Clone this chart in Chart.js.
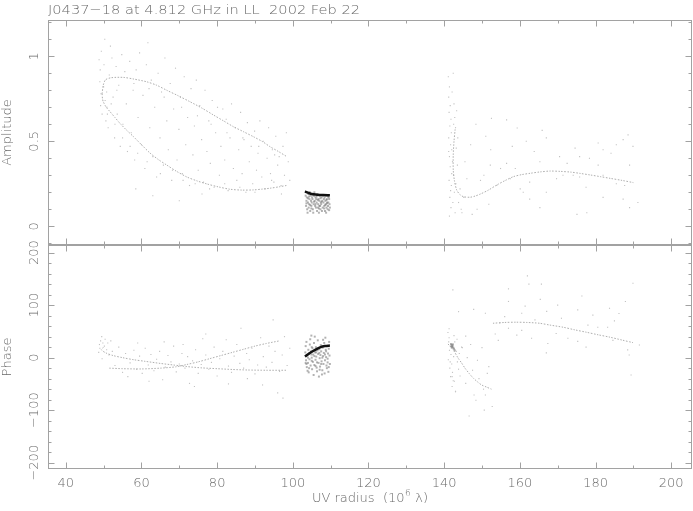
<!DOCTYPE html>
<html>
<head>
<meta charset="utf-8">
<script src="https://cdn.jsdelivr.net/npm/chart.js@4/dist/chart.umd.min.js"></script>
<style>
  body { margin: 0; background: #fff; }
  #wrap { position: relative; width: 693px; height: 511px; }
  #wrap canvas { position: absolute; left: 0; }
  #ampCanvas { top: 0; }
  #phaseCanvas { top: 240px; }
</style>
</head>
<body>
<div id="wrap">
  <canvas id="ampCanvas" width="693" height="250"></canvas>
  <canvas id="phaseCanvas" width="693" height="271"></canvas>
</div>
<script>
/* ============================================================
   DATA  (UV radius in 10^6 lambda, amplitude, phase in deg)
   ============================================================ */

const TITLE        = 'J0437\u221218 at 4.812 GHz in LL  2002 Feb 22';
const xTicks       = [40, 60, 80, 100, 120, 140, 160, 180, 200];
const ampTicks     = [0, 0.5, 1];
const ampLabels    = ['0', '0.5', '1'];
const phaseTicks   = [-200, -100, 0, 100, 200];
const phaseLabels  = ['\u2212200', '\u2212100', '0', '100', '200'];

// model curves, amplitude panel
const ampUpper = [[49.6,0.78],[49.9,0.83],[50.5,0.862],[52,0.874],[55.2,0.876],[58,0.866],[61.4,0.85],[64,0.83],[66.7,0.80],[69.7,0.768],[72.8,0.733],[76,0.695],[79,0.655],[81.7,0.62],[84.3,0.586],[87,0.556],[89.6,0.527],[92,0.498],[94,0.468],[96.2,0.44],[98.4,0.41]];
const ampLower = [[49.6,0.78],[49.7,0.75],[49.9,0.733],[50.7,0.70],[51.7,0.674],[53,0.64],[54.3,0.606],[56,0.567],[57.9,0.527],[60,0.48],[62.3,0.43],[64.5,0.392],[66.7,0.36],[69.3,0.323],[72,0.29],[74.7,0.267],[77.3,0.249],[80.3,0.232],[83.4,0.218],[86.5,0.213],[89.6,0.214],[92,0.219],[94,0.224],[96.6,0.233],[98.3,0.24]];
const ampRight = [[142.9,0.57],[142.6,0.50],[142.4,0.42],[142.4,0.331],[142.7,0.27],[143.3,0.214],[144.1,0.188],[145.1,0.174],[146.9,0.171],[148.2,0.178],[149.6,0.19],[151.7,0.213],[153.9,0.243],[156.1,0.269],[158.3,0.292],[160.5,0.304],[162.8,0.312],[165.4,0.32],[168,0.325],[170.7,0.323],[173.4,0.319],[176,0.311],[178.6,0.302],[181.3,0.292],[183.9,0.282],[187,0.27],[190,0.257]];
const ampMid   = [[103.2,0.205],[104,0.198],[105,0.19],[106.5,0.186],[108,0.184],[109.8,0.183]];

// model curves, phase panel
const phLeftA  = [[50.0,20],[49.4,15],[50.6,9],[52.5,4],[55,0],[58,-4],[61,-7],[65,-11],[68.5,-14],[72,-17],[76,-19.5],[80,-21],[84,-22.5],[88,-23.5],[93,-24],[98.4,-24]];
const phLeftB  = [[51.5,-20],[55,-21],[60,-21.5],[65,-20],[69,-17.5],[72,-13],[75,-8],[78,-2],[81,4],[84,10],[87,16],[90,22],[93,27],[96.5,32]];
const phRightA = [[141.0,26],[141.6,22],[142.4,15],[143.7,-1],[144.6,-10],[145.5,-20],[146.6,-30],[147.7,-39],[148.8,-46],[149.9,-52],[151.2,-56],[152.5,-60]];
const phRightB = [[152.9,65.5],[156,67],[159,67.5],[162,67],[165.2,65.5],[168,62],[171.4,58],[174.5,53],[177.6,48.4],[180.7,43.5],[183.8,39],[187,33.5],[189.9,28.6]];
const phMid    = [[103.2,2],[104.5,9],[105.9,15],[107.2,19.5],[108.5,22],[109.8,23]];

// visibilities, amplitude
const ampPtsLeft = [[48.8,0.98],[49.1,0.92],[49.0,0.85],[49.3,0.78],[49.2,0.71],[49.6,0.66],[49.4,1.03],[50.1,0.95],[50.3,1.10],[50.6,0.62],[50.9,0.70],[51.2,0.58],[51.5,0.89],[51.8,1.06],[52.2,0.99],[52.5,0.76],[52.9,0.52],[53.3,0.94],[53.6,0.66],[54.0,0.83],[54.4,0.47],[54.8,1.01],[55.1,0.60],[55.6,0.91],[56.0,0.72],[56.3,0.44],[56.9,0.97],[57.3,0.55],[57.8,0.80],[58.2,0.39],[58.6,0.92],[59.1,0.64],[59.5,1.02],[60.0,0.48],[60.4,0.77],[60.9,0.34],[61.3,0.95],[61.7,1.08],[62.2,0.58],[62.6,0.86],[63.0,0.41],[63.5,0.70],[64.0,0.29],[64.4,0.90],[64.9,0.52],[65.3,0.79],[65.8,0.36],[66.2,0.99],[66.7,0.62],[67.1,0.45],[67.6,0.84],[68.0,0.27],[68.5,0.69],[69.0,0.93],[69.4,0.39],[69.9,0.57],[70.3,0.76],[70.8,0.31],[71.3,0.88],[71.7,0.48],[72.2,0.64],[72.7,0.24],[73.1,0.81],[73.6,0.42],[74.0,0.59],[74.5,0.86],[75.0,0.33],[75.4,0.71],[75.9,0.51],[76.4,0.26],[76.8,0.80],[77.3,0.44],[77.8,0.62],[78.2,0.37],[78.7,0.74],[79.2,0.23],[79.6,0.55],[80.1,0.70],[80.6,0.30],[81.0,0.47],[81.5,0.69],[82.0,0.39],[82.4,0.63],[82.9,0.21],[83.4,0.52],[83.8,0.72],[84.3,0.34],[84.8,0.58],[85.2,0.27],[85.7,0.45],[86.2,0.67],[86.6,0.31],[87.1,0.51],[87.6,0.20],[88.0,0.61],[88.5,0.38],[89.0,0.47],[89.4,0.25],[89.9,0.56],[90.4,0.33],[90.8,0.43],[91.3,0.62],[91.8,0.29],[92.2,0.50],[92.7,0.22],[93.2,0.40],[93.6,0.58],[94.1,0.31],[94.6,0.45],[95.0,0.26],[95.5,0.53],[96.0,0.36],[96.4,0.41],[96.9,0.24],[97.4,0.47],[97.8,0.30],[98.3,0.55],[98.8,0.38],[99.2,0.27],[63.0,0.18],[70.0,0.15],[58.5,0.22],[76.0,0.19],
  [50.0,0.82],[50.4,0.74],[50.8,0.79],[51.0,0.66],[52.0,0.72],[53.0,0.60],[55.0,0.52],[57.0,0.47],[59.0,0.43],[61.5,0.38],[65.0,0.31],[68.2,0.33],[71.0,0.27],[74.2,0.25],[78.0,0.22],[82.0,0.25],[86.0,0.23],[90.0,0.20],[94.4,0.27],[97.0,0.19],[53.5,0.80],[58.0,0.84],[62.0,0.81],[66.0,0.76],[70.6,0.70],[74.8,0.65],[78.4,0.60],[82.6,0.55],[86.8,0.52],[91.0,0.47],[95.2,0.42]];
const ampPtsRight = [[141.1,0.88],[141.4,0.82],[141.2,0.76],[141.6,0.71],[141.3,0.67],[141.8,0.63],[141.5,0.59],[141.9,0.55],[141.2,0.52],[141.7,0.48],[142.0,0.45],[141.4,0.41],[142.2,0.38],[141.6,0.35],[142.5,0.30],[141.3,0.27],[141.9,0.24],[142.7,0.20],[141.5,0.17],[142.3,0.14],[141.8,0.11],[142.9,0.08],[141.4,0.06],[142.6,0.72],[142.8,0.64],[143.0,0.58],[142.4,0.90],[143.2,0.46],[143.5,0.36],[143.1,0.25],[143.8,0.14],[144.2,0.22],[144.5,0.10],[143.6,0.52],[142.1,0.79],[141.2,0.44],[142.0,0.31],[141.7,0.21],[143.3,0.68],[142.5,0.60],
  [152.5,0.635],[156.5,0.626],[159.3,0.578],[165.9,0.564],[188.6,0.538],[187.3,0.51],[189.9,0.47],[167,0.52],[161.7,0.5],[180.7,0.49],[174.6,0.46],[185.5,0.48],[182,0.45],[147,0.48],[151,0.53],[152.3,0.45],[148.4,0.6],[156.5,0.37],[165.3,0.38],[171.4,0.30],[175.8,0.29],[182,0.30],[189,0.36],[177.5,0.23],[182,0.17],[187.3,0.16],[189,0.11],[191.2,0.14],[175.1,0.07],[177.7,0.08],[165.3,0.11],[167,0.2],[162.6,0.16],[160.9,0.2],[153.9,0.24],[151.8,0.13],[147.4,0.07],[148.7,0.1],[144.7,0.08],[145.2,0.17],[149.6,0.27],[152.2,0.36],[157.5,0.28],[169.7,0.28],[174.1,0.3],[185.5,0.25],[187.7,0.24],[180.7,0.36],[175.8,0.41],[178.4,0.4],[184.1,0.43],[150.5,0.3],[154.9,0.34],[158.8,0.34],[162.6,0.26],[160.1,0.22],[146,0.28],[145.5,0.38],[170.5,0.41],[163.8,0.44],[158,0.47],[172.5,0.37]];
const ampPtsMid = [[103.4,0.18],[103.6,0.15],[103.5,0.12],[103.8,0.10],[103.7,0.17],[104.0,0.14],[104.1,0.19],[104.2,0.11],[104.4,0.16],[104.3,0.13],[104.6,0.09],[104.7,0.18],[104.8,0.15],[104.9,0.12],[105.1,0.17],[105.0,0.14],[105.3,0.10],[105.2,0.16],[105.5,0.13],[105.6,0.18],[105.4,0.08],[105.8,0.15],[105.9,0.12],[106.0,0.17],[106.1,0.11],[106.3,0.14],[106.2,0.16],[106.5,0.19],[106.4,0.09],[106.7,0.13],[106.8,0.16],[106.6,0.11],[107.0,0.15],[107.1,0.18],[107.2,0.12],[107.4,0.14],[107.3,0.10],[107.6,0.17],[107.5,0.13],[107.8,0.15],[107.9,0.11],[108.0,0.18],[108.1,0.14],[108.3,0.12],[108.2,0.16],[108.5,0.09],[108.4,0.17],[108.7,0.13],[108.6,0.15],[108.9,0.11],[108.8,0.18],[109.1,0.14],[109.0,0.16],[109.3,0.12],[109.2,0.10],[109.5,0.17],[109.4,0.14],[109.7,0.13],[109.6,0.16],[109.8,0.11],[103.9,0.08],[106.9,0.08],[105.7,0.20],[107.7,0.09],[104.5,0.20],[108.8,0.08],[106.0,0.13],[107.0,0.12],[104.0,0.165],[109.0,0.135],
  [103.6,0.135],[104.3,0.175],[104.9,0.105],[105.6,0.145],[106.3,0.175],[106.9,0.105],[107.6,0.145],[108.3,0.105],[108.9,0.155],[109.6,0.095],[104.6,0.125],[105.3,0.185],[106.6,0.155],[107.3,0.165],[108.6,0.125],[109.3,0.175]];

// visibilities, phase
const phPtsLeft = [[48.9,25],[49.2,32],[49.0,18],[49.5,40],[49.8,28],[50.2,22],[50.4,35],[50.8,15],[51.1,28],[51.4,5],[51.9,32],[52.3,12],[48.7,10],[49.6,-2],[53,-15],[54,20],[55,-28],[55.8,8],[56.4,-36],[57,-10],[58,14],[58.7,-22],[59.5,3],[60.2,-30],[61,18],[61.8,-14],[62.5,6],[63.3,-25],[64,-3],[64.8,12],[65.6,-42],[66.3,-18],[67,4],[67.8,-8],[68.5,22],[69.2,-27],[70,-12],[70.7,8],[71.5,-20],[72.2,2],[72.7,-49],[73.5,-6],[74.3,15],[75,-30],[75.8,-13],[76.2,36],[77,5],[77.8,-22],[78.5,-9],[79.2,20],[80,-35],[80.7,-2],[81.5,12],[82.4,34],[83,-16],[83.8,-28],[84.5,3],[85.2,25],[86,-11],[86.3,56],[87,-20],[87.8,8],[88.5,-4],[89.2,18],[90,-31],[90.7,-14],[91.5,38],[92.2,2],[93,-18],[93.7,22],[94.5,-9],[94.8,72],[95.3,12],[96,-67],[96.5,-26],[97.2,5],[97.8,40],[98.5,-15],[99.2,18],[88,-40],[74,-55],[62,-45],[92,-52],[97.4,-77],[83,-50],[59,28],[66,30],[71,25],[77,45]];
const phPtsRight = [[141.0,48],[141.3,38],[141.2,30],[141.6,22],[141.4,14],[141.8,6],[141.1,-4],[142.0,-12],[141.5,-20],[142.2,-28],[141.7,-36],[142.4,-44],[142.1,-55],[143.0,-64],[141.3,55],[142.6,42],[142.8,30],[143.2,12],[143.5,-8],[142.5,2],[143.8,-22],[144.2,-35],[143.4,35],[141.9,18],[142.3,26],[141.6,-8],[144.0,8],[144.6,20],[142.7,-45],
  [162,155.6],[162.4,140],[165.7,140],[157,131],[189.9,141.6],[142.3,129],[157,107],[165.4,111],[176.4,117.5],[187.9,107],[161.4,98],[150.9,84.5],[143.8,87.6],[147.8,92],[183.7,94],[175.3,91],[179.3,81],[186.2,84],[167.1,88],[160.5,84.5],[157,56],[160.5,52],[163.1,37],[159.2,43],[167.4,27],[169.6,46],[172.7,37],[175.3,31],[177.5,20],[180.6,58],[183.2,58],[184.6,33],[188.5,14.7],[188.9,5],[189.4,-33],[191.6,24],[154.3,33],[154.7,66],[167,9],[151.8,-17],[151.4,-30],[150.9,-71],[152.7,-93],[150.6,-100],[146.6,-111],[148.4,-81],[147.9,-71],[145.7,-49],[147.5,-24],[143,-65],[142.1,-36],[146.1,0],[144.8,19],[147,25],[145.7,41],[150,19],[149.2,-40],[150.4,-60],[148.8,-5],[153.5,45],[171,75],[185,70],[178,62],[164,72],[156,78],[170,100]];
const phPtsMid = [[103.3,10],[103.5,-5],[103.4,22],[103.7,-18],[103.8,4],[103.6,30],[104.0,-10],[104.1,15],[104.2,-28],[104.3,8],[104.5,25],[104.4,-3],[104.7,-15],[104.8,12],[104.6,35],[105.0,0],[105.1,-22],[105.2,18],[105.4,6],[105.3,-8],[105.6,28],[105.7,-14],[105.5,-33],[105.9,10],[106.0,-4],[106.1,20],[106.3,-19],[106.2,2],[106.5,14],[106.4,-26],[106.7,7],[106.8,-10],[106.6,33],[107.0,16],[107.1,-1],[107.2,-17],[107.4,24],[107.3,5],[107.6,-7],[107.5,12],[107.8,-24],[107.9,19],[108.0,3],[108.1,-12],[108.3,28],[108.2,9],[108.5,-5],[108.4,-30],[108.7,15],[108.6,38],[108.9,-15],[108.8,1],[109.1,22],[109.0,-20],[109.3,8],[109.2,-9],[109.5,17],[109.4,-27],[109.7,4],[109.6,30],[109.8,-12],[104.9,42],[106.9,-36],[105.8,40],[107.7,-32],[103.9,-25],[108.0,34],[106.0,-16],[107.0,9],[105.0,20],
  [103.6,-12],[104.3,-20],[105.0,-6],[105.7,3],[106.4,-9],[107.1,-23],[107.8,0],[108.5,6],[109.2,-2],[104.0,0],[104.9,6],[106.2,10],[107.5,-12],[108.8,12],[109.5,-18],[103.4,-10],
  [141.8,26],[142.0,24],[142.2,22],[142.4,19],[142.6,17],[142.1,20],[142.8,14],[142.3,25],[141.9,21]];

/* ============================================================
   PGPLOT-STYLE FRAME, TICKS AND LABELS
   ============================================================ */

const FONT  = '"DejaVu Sans", sans-serif';
const INK   = '#6a6a6a';
const FRAME = '#a2a2a2';

function drawTicks(ctx, a, scale, horizontal, step, majors) {
  const lo = Math.ceil(scale.min / step - 1e-6), hi = Math.floor(scale.max / step + 1e-6);
  for (let i = lo; i <= hi; i++) {
    const v   = +(i * step).toFixed(6);
    const len = majors.some(m => Math.abs(m - v) < 1e-6) ? 6.5 : 3.5;
    const p   = Math.round(scale.getPixelForValue(v)) + 0.5;
    ctx.beginPath();
    if (horizontal) {
      ctx.moveTo(p, a.top);    ctx.lineTo(p, a.top + len);
      ctx.moveTo(p, a.bottom); ctx.lineTo(p, a.bottom - len);
    } else {
      ctx.moveTo(a.left, p);  ctx.lineTo(a.left + len, p);
      ctx.moveTo(a.right, p); ctx.lineTo(a.right - len, p);
    }
    ctx.stroke();
  }
}

function fitText(ctx, s, x, y, width) {
  const w = ctx.measureText(s).width;
  ctx.save(); ctx.translate(x, y); ctx.scale(width / w, 1); ctx.fillText(s, 0, 0); ctx.restore();
}

const pgFrame = {
  id: 'pgframe',
  afterDraw(chart, args, o) {
    const { ctx, chartArea: a, scales: { x, y } } = chart;
    ctx.save();
    ctx.strokeStyle = FRAME;
    ctx.lineWidth = 1;
    ctx.strokeRect(a.left + 0.5, a.top + 0.5, a.right - a.left - 1, a.bottom - a.top - 1);
    drawTicks(ctx, a, x, true, 10, xTicks);
    drawTicks(ctx, a, y, false, o.yStep, o.yTicks);

    ctx.fillStyle = INK;
    ctx.font = '200 13px ' + FONT;
    // rotated y tick labels and axis title
    o.yTicks.forEach((v, i) => {
      ctx.save();
      ctx.translate(38, y.getPixelForValue(v));
      ctx.rotate(-Math.PI / 2);
      ctx.textAlign = 'center';
      ctx.fillText(o.yLabels[i], 0, 0);
      ctx.restore();
    });
    ctx.save();
    ctx.translate(11, (a.top + a.bottom) / 2);
    ctx.rotate(-Math.PI / 2);
    ctx.textAlign = 'center';
    ctx.fillText(o.yTitle, 0, 0);
    ctx.restore();

    if (o.title) fitText(ctx, o.title, a.left, 13.5, 312);

    if (o.xAxis) {
      ctx.textAlign = 'center';
      xTicks.forEach(v => ctx.fillText(String(v), x.getPixelForValue(v), a.bottom + 18));
      const p1 = 'UV radius  (10', p2 = '6', p3 = ' \u03bb)';
      const w1 = ctx.measureText(p1).width, w3 = ctx.measureText(p3).width;
      ctx.font = '200 9px ' + FONT;
      const w2 = ctx.measureText(p2).width + 1;
      const x0 = (a.left + a.right) / 2 - (w1 + w2 + w3) / 2, yb = a.bottom + 33;
      ctx.textAlign = 'left';
      ctx.fillText(p2, x0 + w1 + 0.5, yb - 6);
      ctx.font = '200 13px ' + FONT;
      ctx.fillText(p1, x0, yb);
      ctx.fillText(p3, x0 + w1 + w2, yb);
    }
    ctx.restore();
  },
};

/* ============================================================
   DATASET HELPERS
   ============================================================ */

const toXY = arr => arr.map(([x, y]) => ({ x, y }));

const dots = (arr, color, r, order) => ({
  data: toXY(arr), showLine: false, pointStyle: 'rect',
  pointRadius: r, pointBorderWidth: 0, pointBackgroundColor: color, order,
});

const curve = (arr, color, w, order, dash) => ({
  data: toXY(arr), showLine: true, fill: false, tension: 0.25,
  borderColor: color, borderWidth: w, borderDash: dash || [], pointRadius: 0, order,
});

function panel(id, datasets, yMin, yMax, pad, frame) {
  return new Chart(document.getElementById(id), {
    type: 'scatter',
    data: { datasets },
    options: {
      responsive: false, animation: false, devicePixelRatio: 1, events: [],
      layout: { autoPadding: false, padding: pad },
      plugins: { legend: { display: false }, tooltip: { enabled: false }, pgframe: frame },
      scales: {
        x: { type: 'linear', min: 35.3, max: 205.5, display: false },
        y: { type: 'linear', min: yMin, max: yMax, display: false },
      },
    },
    plugins: [pgFrame],
  });
}

/* ============================================================
   RENDER
   ============================================================ */

const LIGHT = '#c2c2c2';
const MODEL = 'rgba(160,160,160,0.85)';
const DOTS  = [1.5, 1.5];
const DENSE = 'rgba(115,115,115,0.55)';

panel('ampCanvas', [
  curve(ampMid, '#111', 2.5, 0),
  curve(ampUpper, MODEL, 1, 1, DOTS),
  curve(ampLower, MODEL, 1, 1, DOTS),
  curve(ampRight, MODEL, 1, 1, DOTS),
  dots(ampPtsMid, DENSE, 1.4, 2),
  dots(ampPtsLeft, LIGHT, 0.8, 3),
  dots(ampPtsRight, LIGHT, 0.8, 3),
], -0.110, 1.2135, { left: 48, right: 1, top: 20, bottom: 5 },
  { yTicks: ampTicks, yLabels: ampLabels, yStep: 0.1, yTitle: 'Amplitude', title: TITLE });

panel('phaseCanvas', [
  curve(phMid, '#111', 2.5, 0),
  curve(phLeftA, MODEL, 1, 1, DOTS),
  curve(phLeftB, MODEL, 1, 1, DOTS),
  curve(phRightA, MODEL, 1, 1, DOTS),
  curve(phRightB, MODEL, 1, 1, DOTS),
  dots(phPtsMid, DENSE, 1.4, 2),
  dots(phPtsLeft, LIGHT, 0.8, 3),
  dots(phPtsRight, LIGHT, 0.8, 3),
], -212, 214.5, { left: 48, right: 1, top: 5, bottom: 42 },
  { yTicks: phaseTicks, yLabels: phaseLabels, yStep: 20, yTitle: 'Phase', xAxis: true });
</script>
</body>
</html>
